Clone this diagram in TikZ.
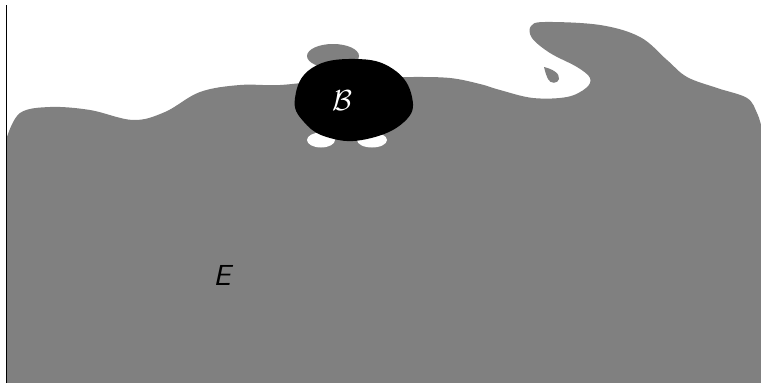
\documentclass[tikz,border=0pt]{standalone}
\usepackage{amsmath}
\begin{document}
\begin{tikzpicture}[x=1pt,y=-1pt,
  regionfill/.style={fill={rgb,255:red,128;green,128;blue,128}, draw=none},
  lbl/.style={inner sep=0pt, scale=2.9}]
\useasboundingbox (0,0) rectangle (761,383);
\fill[white] (0,0) rectangle (761,383);
% main gray region
\path[regionfill] (7,383) -- (7,137)
  -- plot[smooth, tension=0.6] coordinates {(7,137) (20,113) (50,107) (90,110) (133,120) (165,112) (200,92) (240,85) (280,85) (330,80) (380,78) (412,77) (450,78) (480,84) (500,90) (533,98) (567,97) (586,88) (590,78) (577,67) (550,53) (532,38) (531,26) (545,22) (600,25) (640,37) (667,60) (687,77) (717,88) (747,98) (757,113) (761,125)}
  -- (761,383) -- cycle;
% drop
\path[regionfill] (544,67) .. controls (552,69) and (560,73) .. (559,79) .. controls (558,84) and (550,84) .. (548,79) .. controls (546,75) and (545,71) .. (544,67) -- cycle;
% small gray blob above
\path[regionfill] (333,56) ellipse [x radius=26, y radius=12];
% white feet
\fill[white] (321,140) ellipse [x radius=14, y radius=7.5];
\fill[white] (372,140) ellipse [x radius=15, y radius=7.5];
% black blob
\fill[black] plot[smooth cycle, tension=0.75] coordinates {(295,98) (312,68) (355,59) (393,69) (412,97) (404,122) (367,139) (330,138) (304,122)};
% left line
\draw[line width=1.5pt] (6.5,5) -- (6.5,383);
\node[lbl, text=white] (B) at (342,101) {$\mathcal{B}$};
\node[lbl] (E) at (222,275) {\sffamily\itshape E};
\end{tikzpicture}
\end{document}
